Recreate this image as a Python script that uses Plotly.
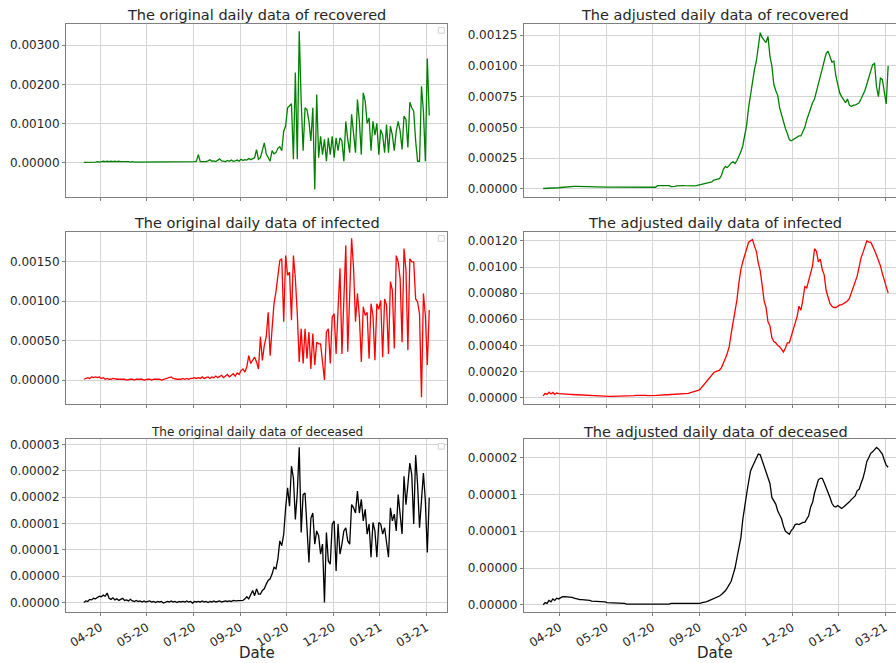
import pandas as pd
import plotly.graph_objects as go

# ---------------- data (one value every 2 days) ----------------
start_date = "2020-03-26"
n_points = 179
dates = pd.date_range(start_date, periods=n_points, freq="2D")

recovered_original = [
    0.0, 0.0, 0.00001, 0.0, 0.00001, 0.00001, 0.00001, 0.00002, 0.00001, 0.00002,
    0.00003, 0.00002, 0.00003, 0.00002, 0.00003, 0.00002, 0.00003, 0.00002, 0.00003, 0.00002,
    0.00002, 0.00003, 0.00002, 0.00002, 0.00001, 0.00002, 0.00001, 0.00001, 0.00001, 0.00002,
    0.00001, 0.00001, 0.00002, 0.00001, 0.00001, 0.00001, 0.00002, 0.00001, 0.00001, 0.00001,
    0.00001, 0.00002, 0.00001, 0.00001, 0.00001, 0.00001, 0.00002, 0.00001, 0.00001, 0.00001,
    0.00001, 0.00002, 0.00001, 0.00001, 0.00002, 0.00001, 0.00002, 0.00002, 0.00003, 0.00020,
    0.00002, 0.00002, 0.00003, 0.00002, 0.00004, 0.00007, 0.00003, 0.00004, 0.00002, 0.00005,
    0.00009, 0.00004, 0.00003, 0.00002, 0.00005, 0.00003, 0.00006, 0.00003, 0.00004, 0.00006,
    0.00003, 0.00008, 0.00005, 0.00007, 0.00006, 0.00010, 0.00007, 0.00009, 0.00012, 0.00033,
    0.00008, 0.00012, 0.00030, 0.00050, 0.00022, 0.00012, 0.00003, 0.00030, 0.00022, 0.00025,
    0.00036, 0.00040, 0.00030, 0.00080, 0.00093, 0.00140, 0.00145, 0.00150, 0.00008, 0.00230,
    0.00008, 0.00336, 0.00157, 0.00030, 0.00140, 0.00135, 0.00105, 0.00055, 0.00140, -0.00069,
    0.00174, 0.00012, 0.00067, 0.00020, 0.00059, 0.00003, 0.00063, 0.00020, 0.00067, 0.00012,
    0.00063, 0.00030, 0.00063, 0.00055, 0.00003, 0.00105, 0.00059, 0.00025, 0.00123, 0.00063,
    0.00025, 0.00161, 0.00105, 0.00020, 0.00178, 0.00157, 0.00100, 0.00114, 0.00030, 0.00105,
    0.00070, 0.00100, 0.00020, 0.00084, 0.00070, 0.00025, 0.00097, 0.00025, 0.00093, 0.00070,
    0.00030, 0.00080, 0.00105, 0.00080, 0.00033, 0.00119, 0.00110, 0.00038, 0.00154, 0.00140,
    0.00131, 0.00055, 0.00003, 0.00003, 0.00195, 0.00131, 0.00003, 0.00266, 0.00120,
]

infected_original = [
    0.00001, 0.00002, 0.00003, 0.00002, 0.00004, 0.00003, 0.00004, 0.00003, 0.00004, 0.00002,
    0.00003, 0.00001, 0.00002, 0.00001, 0.00001, 0.00002, 0.00001, 0.00001, 0.00001, 0.00001,
    0.00001, 0.00001, 0.00000, 0.00001, 0.00001, 0.00001, 0.00000, 0.00001, 0.00001, 0.00001,
    0.00001, 0.00000, 0.00001, 0.00001, 0.00001, 0.00000, 0.00001, 0.00001, 0.00001, 0.00001,
    0.00000, 0.00001, 0.00001, 0.00002, 0.00003, 0.00004, 0.00002, 0.00001, 0.00001, 0.00001,
    0.00001, 0.00002, 0.00001, 0.00002, 0.00001, 0.00002, 0.00002, 0.00003, 0.00002, 0.00003,
    0.00002, 0.00004, 0.00002, 0.00003, 0.00004, 0.00002, 0.00004, 0.00003, 0.00005, 0.00003,
    0.00004, 0.00006, 0.00003, 0.00005, 0.00007, 0.00004, 0.00006, 0.00008, 0.00005, 0.00009,
    0.00007, 0.00012, 0.00014, 0.00010, 0.00017, 0.00031, 0.00021, 0.00025, 0.00029, 0.00023,
    0.00014, 0.00055, 0.00025, 0.00044, 0.00055, 0.00086, 0.00031, 0.00065, 0.00097, 0.00112,
    0.00135, 0.00152, 0.00154, 0.00074, 0.00158, 0.00133, 0.00137, 0.00076, 0.00158, 0.00129,
    0.00084, 0.00023, 0.00065, 0.00021, 0.00065, 0.00027, 0.00061, 0.00014, 0.00059, 0.00019,
    0.00048, 0.00046, 0.00046, 0.00025, 0.00000, 0.00061, 0.00065, 0.00021, 0.00080, 0.00084,
    0.00033, 0.00089, 0.00142, 0.00033, 0.00100, 0.00171, 0.00036, 0.00100, 0.00180, 0.00142,
    0.00074, 0.00110, 0.00080, 0.00023, 0.00093, 0.00082, 0.00086, 0.00027, 0.00097, 0.00082,
    0.00025, 0.00097, 0.00090, 0.00101, 0.00029, 0.00103, 0.00095, 0.00033, 0.00125, 0.00114,
    0.00040, 0.00158, 0.00150, 0.00129, 0.00048, 0.00167, 0.00140, 0.00038, 0.00154, 0.00150,
    0.00150, 0.00103, 0.00099, 0.00084, -0.00022, 0.00110, 0.00082, 0.00019, 0.00089,
]

deceased_original = [
    0.0, 0.0000003, 0.0000002, 0.0000006, 0.0000005, 0.0000008, 0.0000007, 0.0000010, 0.0000012, 0.0000011,
    0.0000014, 0.0000012, 0.0000018, 0.0000008, 0.0000006, 0.0000009, 0.0000005, 0.0000007, 0.0000004, 0.0000006,
    0.0000008, 0.0000004, 0.0000005, 0.0000003, 0.0000006, 0.0000003, 0.0000002, 0.0000004, 0.0000002, 0.0000003,
    0.0000001, 0.0000003, 0.0000001, 0.0000002, 0.0000003, 0.0000001, 0.0000002, 0.0000000, 0.0000002, 0.0000001,
    0.0000002, -0.0000001, 0.0000001, 0.0000002, 0.0000001, 0.0000003, 0.0000001, 0.0000002, 0.0000000, 0.0000002,
    0.0000001, 0.0000002, 0.0000001, 0.0000003, 0.0000001, 0.0000002, -0.0000001, 0.0000002, 0.0000001, 0.0000002,
    0.0000001, 0.0000003, 0.0000001, 0.0000002, 0.0000000, 0.0000002, 0.0000001, 0.0000003, 0.0000001, 0.0000002,
    0.0000003, 0.0000001, 0.0000002, 0.0000003, 0.0000002, 0.0000003, 0.0000002, 0.0000004, 0.0000003, 0.0000003,
    0.0000004, 0.0000003, 0.0000004, 0.0000007, 0.0000011, 0.0000007, 0.0000016, 0.0000023, 0.0000013, 0.0000026,
    0.0000016, 0.0000016, 0.0000023, 0.0000026, 0.0000035, 0.0000042, 0.0000045, 0.0000054, 0.0000067, 0.0000064,
    0.0000083, 0.0000117, 0.0000108, 0.0000130, 0.0000180, 0.0000218, 0.0000183, 0.0000259, 0.0000237, 0.0000158,
    0.0000208, 0.0000295, 0.0000133, 0.0000205, 0.0000208, 0.0000136, 0.0000076, 0.0000160, 0.0000170, 0.0000111,
    0.0000136, 0.0000127, 0.0000092, 0.0000111, 0.0000000, 0.0000133, 0.0000079, 0.0000073, 0.0000149, 0.0000155,
    0.0000060, 0.0000149, 0.0000092, 0.0000111, 0.0000136, 0.0000142, 0.0000117, 0.0000111, 0.0000186, 0.0000180,
    0.0000170, 0.0000212, 0.0000170, 0.0000196, 0.0000155, 0.0000177, 0.0000130, 0.0000149, 0.0000086, 0.0000152,
    0.0000136, 0.0000086, 0.0000152, 0.0000149, 0.0000130, 0.0000142, 0.0000117, 0.0000086, 0.0000180, 0.0000155,
    0.0000168, 0.0000136, 0.0000205, 0.0000161, 0.0000130, 0.0000240, 0.0000186, 0.0000224, 0.0000265, 0.0000243,
    0.0000149, 0.0000280, 0.0000224, 0.0000142, 0.0000199, 0.0000246, 0.0000193, 0.0000095, 0.0000199,
]

recovered_adjusted = [
    0.000002, 0.000002, 0.000002, 0.000003, 0.000003, 0.000004, 0.000005, 0.000006, 0.000008, 0.000010,
    0.000012, 0.000014, 0.000016, 0.000017, 0.000018, 0.000019, 0.000020, 0.000020, 0.000020, 0.000020,
    0.000020, 0.000019, 0.000019, 0.000019, 0.000018, 0.000018, 0.000017, 0.000017, 0.000016, 0.000016,
    0.000015, 0.000015, 0.000014, 0.000014, 0.000013, 0.000013, 0.000012, 0.000012, 0.000011, 0.000011,
    0.000010, 0.000010, 0.000010, 0.000010, 0.000009, 0.000009, 0.000009, 0.000009, 0.000009, 0.000009,
    0.000009, 0.000009, 0.000010, 0.000010, 0.000010, 0.000011, 0.000011, 0.000011, 0.000012, 0.000025,
    0.000027, 0.000027, 0.000026, 0.000026, 0.000026, 0.000025, 0.000018, 0.000016, 0.000020, 0.000024,
    0.000026, 0.000026, 0.000026, 0.000025, 0.000024, 0.000023, 0.000022, 0.000022, 0.000024, 0.000026,
    0.000030, 0.000032, 0.000035, 0.000038, 0.000040, 0.000045, 0.000050, 0.000055, 0.000070, 0.000076,
    0.000078, 0.000082, 0.000110, 0.000160, 0.000180, 0.000173, 0.000190, 0.000210, 0.000220, 0.000205,
    0.00023, 0.00026, 0.00030, 0.00035, 0.00043, 0.00052, 0.00066, 0.00077, 0.00088, 0.00097,
    0.00104, 0.00114, 0.00127, 0.00123, 0.00121, 0.00119, 0.00124, 0.00108, 0.00100, 0.00085,
    0.00080, 0.00076, 0.00066, 0.00060, 0.00053, 0.00049, 0.00045, 0.00040, 0.00039, 0.00040,
    0.00041, 0.00042, 0.00043, 0.00043, 0.00047, 0.00050, 0.00056, 0.00061, 0.00064, 0.00070,
    0.00073, 0.00079, 0.00084, 0.00091, 0.00098, 0.00104, 0.00110, 0.00112, 0.00107, 0.00103,
    0.00104, 0.00092, 0.00085, 0.00078, 0.00075, 0.00072, 0.00070, 0.00073, 0.00068, 0.00067,
    0.00068, 0.00068, 0.00069, 0.00070, 0.00073, 0.00076, 0.00080, 0.00085, 0.00090, 0.00096,
    0.00101, 0.00102, 0.00083, 0.00075, 0.00090, 0.00089, 0.00080, 0.00069, 0.00100,
]

infected_adjusted = [
    0.000013, 0.000033, 0.000025, 0.000042, 0.000028, 0.000040, 0.000025, 0.000035, 0.000030, 0.000030,
    0.000030, 0.000028, 0.000027, 0.000026, 0.000025, 0.000024, 0.000023, 0.000022, 0.000021, 0.000020,
    0.000019, 0.000018, 0.000017, 0.000016, 0.000015, 0.000014, 0.000014, 0.000013, 0.000013, 0.000012,
    0.000012, 0.000011, 0.000011, 0.000011, 0.000010, 0.000010, 0.000010, 0.000010, 0.000010, 0.000010,
    0.000010, 0.000010, 0.000010, 0.000011, 0.000011, 0.000012, 0.000013, 0.000015, 0.000017, 0.000018,
    0.000019, 0.000019, 0.000018, 0.000017, 0.000016, 0.000015, 0.000015, 0.000016, 0.000017, 0.000018,
    0.000020, 0.000020, 0.000021, 0.000022, 0.000022, 0.000023, 0.000023, 0.000024, 0.000024, 0.000025,
    0.000025, 0.000026, 0.000027, 0.000028, 0.000030, 0.000033, 0.000038, 0.000042, 0.000045, 0.000050,
    0.000055, 0.000065, 0.000083, 0.000100, 0.000116, 0.000140, 0.000160, 0.000175, 0.000190, 0.000200,
    0.000205, 0.000210, 0.000230, 0.000260, 0.000300, 0.000340, 0.000390, 0.000490, 0.000580, 0.000660,
    0.00075, 0.00088, 0.00098, 0.00104, 0.00110, 0.00114, 0.00119, 0.00120, 0.00121, 0.00116,
    0.00112, 0.00103, 0.00097, 0.00086, 0.00074, 0.00069, 0.00058, 0.00055, 0.00046, 0.00043,
    0.00042, 0.00040, 0.00039, 0.00037, 0.00035, 0.00038, 0.00042, 0.00042, 0.00047, 0.00052,
    0.00058, 0.00062, 0.00070, 0.00067, 0.00075, 0.00085, 0.00084, 0.00089, 0.00096, 0.00101,
    0.00114, 0.00112, 0.00104, 0.00106, 0.00098, 0.00094, 0.00082, 0.00077, 0.00072, 0.00070,
    0.00069, 0.00069, 0.00070, 0.00071, 0.00071, 0.00072, 0.00073, 0.00074, 0.00076, 0.00080,
    0.00084, 0.00089, 0.00093, 0.00100, 0.00107, 0.00111, 0.00116, 0.00120, 0.00119, 0.00119,
    0.00116, 0.00113, 0.00109, 0.00105, 0.00101, 0.00095, 0.00090, 0.00084, 0.00080,
]

deceased_adjusted = [
    0.0, 0.0000003, 0.0000002, 0.0000006, 0.0000004, 0.0000008, 0.0000006, 0.0000009, 0.0000008, 0.0000010,
    0.0000011, 0.0000011, 0.0000011, 0.0000011, 0.0000010, 0.0000010, 0.0000009, 0.0000008, 0.0000008, 0.0000007,
    0.0000007, 0.0000007, 0.0000006, 0.0000006, 0.0000006, 0.0000005, 0.0000005, 0.0000005, 0.0000005, 0.0000004,
    0.0000004, 0.0000004, 0.0000004, 0.0000003, 0.0000003, 0.0000003, 0.0000003, 0.0000003, 0.0000002, 0.0000002,
    0.0000002, 0.0000002, 0.0000002, 0.0000001, 0.0000001, 0.0000001, 0.0000001, 0.0000001, 0.0000001, 0.0000001,
    0.0000001, 0.0000001, 0.0000001, 0.0000001, 0.0000001, 0.0000001, 0.0000000, 0.0000000, 0.0000001, 0.0000001,
    0.0000001, 0.0000001, 0.0000001, 0.0000001, 0.0000001, 0.0000001, 0.0000002, 0.0000002, 0.0000001, 0.0000001,
    0.0000002, 0.0000002, 0.0000002, 0.0000002, 0.0000002, 0.0000002, 0.0000002, 0.0000002, 0.0000002, 0.0000002,
    0.0000002, 0.0000002, 0.0000003, 0.0000003, 0.0000004, 0.0000005, 0.0000006, 0.0000007, 0.0000008, 0.0000009,
    0.0000011, 0.0000012, 0.0000014, 0.0000016, 0.0000019, 0.0000023, 0.0000027, 0.0000032, 0.0000041, 0.0000050,
    0.0000064, 0.0000076, 0.0000091, 0.0000116, 0.0000136, 0.0000151, 0.0000167, 0.0000182, 0.0000188, 0.0000194,
    0.0000200, 0.0000205, 0.0000204, 0.0000196, 0.0000188, 0.0000182, 0.0000171, 0.0000165, 0.0000146, 0.0000141,
    0.0000137, 0.0000128, 0.0000123, 0.0000117, 0.0000107, 0.0000100, 0.0000098, 0.0000096, 0.0000101, 0.0000104,
    0.0000109, 0.0000110, 0.0000109, 0.0000111, 0.0000112, 0.0000112, 0.0000116, 0.0000121, 0.0000133, 0.0000139,
    0.0000152, 0.0000160, 0.0000170, 0.0000172, 0.0000172, 0.0000166, 0.0000160, 0.0000152, 0.0000146, 0.0000138,
    0.0000134, 0.0000133, 0.0000135, 0.0000133, 0.0000131, 0.0000133, 0.0000135, 0.0000138, 0.0000140, 0.0000143,
    0.0000146, 0.0000148, 0.0000155, 0.0000157, 0.0000165, 0.0000172, 0.0000182, 0.0000195, 0.0000200, 0.0000206,
    0.0000208, 0.0000211, 0.0000214, 0.0000212, 0.0000208, 0.0000205, 0.0000197, 0.0000190, 0.0000187,
]

x_tick_dates = ["2020-04-12", "2020-05-30", "2020-07-17", "2020-09-03",
                "2020-10-21", "2020-12-08", "2021-01-25", "2021-03-14"]
x_tick_labels = ["04-20", "05-20", "07-20", "09-20", "10-20", "12-20", "01-21", "03-21"]

y_ticks_rec_orig = [0.0, 0.001, 0.002, 0.003]
y_text_rec_orig = ["0.00000", "0.00100", "0.00200", "0.00300"]
y_ticks_rec_adj = [0.0, 0.00025, 0.0005, 0.00075, 0.001, 0.00125]
y_text_rec_adj = ["0.00000", "0.00025", "0.00050", "0.00075", "0.00100", "0.00125"]
y_ticks_inf_orig = [0.0, 0.0005, 0.001, 0.0015]
y_text_inf_orig = ["0.00000", "0.00050", "0.00100", "0.00150"]
y_ticks_inf_adj = [0.0, 0.0002, 0.0004, 0.0006, 0.0008, 0.001, 0.0012]
y_text_inf_adj = ["0.00000", "0.00020", "0.00040", "0.00060", "0.00080", "0.00100", "0.00120"]
y_ticks_dec_orig = [0.0, 0.000005, 0.00001, 0.000015, 0.00002, 0.000025, 0.00003]
y_text_dec_orig = ["0.00000", "0.00000", "0.00001", "0.00001", "0.00002", "0.00002", "0.00003"]
y_ticks_dec_adj = [0.0, 0.000005, 0.00001, 0.000015, 0.00002]
y_text_dec_adj = ["0.00000", "0.00000", "0.00001", "0.00001", "0.00002"]

titles = ["The original daily data of recovered", "The adjusted daily data of recovered",
          "The original daily data of infected", "The adjusted daily data of infected",
          "The original daily data of deceased", "The adjusted daily data of deceased"]

# ---------------- layout geometry (pixels of the 896x663 page) ----------------
W, H = 896, 663
FONT = "DejaVu Sans"
TXT = "#262626"
GRID = "#d4d4d4"
SPINE = "#808080"

base = pd.Timestamp(start_date)


def day(d):
    return (base + pd.Timedelta(days=d)).strftime("%Y-%m-%d %H:%M:%S")


col_px = {0: (66.0, 446.7), 1: (523.7, 896.0)}
col_range = {0: (-18.4, 374.0), 1: (-20.1, 364.1)}
row_px = {0: (23.3, 196.3), 1: (231.7, 404.5), 2: (439.0, 613.0)}
y_ranges = [(-0.000878, 0.003538), (-0.0000648, 0.001339),
            (-0.000308, 0.00188), (-0.0000508, 0.001268),
            (-0.00000183, 0.00003113), (-0.000000998, 0.00002259)]
y_tick_sets = [(y_ticks_rec_orig, y_text_rec_orig), (y_ticks_rec_adj, y_text_rec_adj),
               (y_ticks_inf_orig, y_text_inf_orig), (y_ticks_inf_adj, y_text_inf_adj),
               (y_ticks_dec_orig, y_text_dec_orig), (y_ticks_dec_adj, y_text_dec_adj)]
series = [recovered_original, recovered_adjusted, infected_original,
          infected_adjusted, deceased_original, deceased_adjusted]
colors = ["green", "green", "red", "red", "black", "black"]

fig = go.Figure()
layout = dict(width=W, height=H, margin=dict(l=0, r=0, t=0, b=0),
              paper_bgcolor="white", plot_bgcolor="white", showlegend=False,
              font=dict(family=FONT, color=TXT, size=12))
annotations = []
shapes = []

for i in range(6):
    row, col = divmod(i, 2)
    suffix = "" if i == 0 else str(i + 1)
    fig.add_trace(go.Scatter(x=dates, y=series[i], mode="lines",
                             line=dict(color=colors[i], width=1.3),
                             xaxis="x" + suffix, yaxis="y" + suffix,
                             hoverinfo="skip"))
    x0, x1 = col_px[col]
    yt, yb = row_px[row]
    bottom_row = row == 2
    layout["xaxis" + suffix] = dict(
        domain=[x0 / W, x1 / W], anchor="y" + suffix,
        type="date", range=[day(col_range[col][0]), day(col_range[col][1])],
        tickvals=x_tick_dates, ticktext=x_tick_labels,
        showticklabels=bottom_row, tickangle=-30,
        tickfont=dict(size=12, color=TXT, family=FONT),
        ticks="outside", ticklen=3, tickcolor=SPINE,
        showgrid=True, gridcolor=GRID, gridwidth=1,
        showline=True, linecolor=SPINE, linewidth=1, mirror=True,
        zeroline=False, fixedrange=True,
    )
    tv, tt = y_tick_sets[i]
    layout["yaxis" + suffix] = dict(
        domain=[1 - yb / H, 1 - yt / H], anchor="x" + suffix,
        range=list(y_ranges[i]), tickvals=tv, ticktext=tt,
        tickfont=dict(size=12, color=TXT, family=FONT),
        ticks="outside", ticklen=3, tickcolor=SPINE,
        showgrid=True, gridcolor=GRID, gridwidth=1,
        showline=True, linecolor=SPINE, linewidth=1, mirror=(col == 0),
        zeroline=False, fixedrange=True,
    )
    # subplot title
    title_size = 12 if i == 4 else 14.5
    title_center = {0: 256.5, 1: 715.0}[col]
    title_mid = {0: 14.0, 1: 222.5, 2: 432.0}[row]
    annotations.append(dict(text=titles[i], x=title_center / W, y=1 - title_mid / H,
                            xref="paper", yref="paper", xanchor="center", yanchor="middle",
                            showarrow=False, font=dict(size=title_size, color=TXT, family=FONT)))
    if bottom_row:
        annotations.append(dict(text="Date", x=title_center / W, y=1 - 654.0 / H,
                                xref="paper", yref="paper", xanchor="center", yanchor="middle",
                                showarrow=False, font=dict(size=15, color=TXT, family=FONT)))
    if col == 0:
        # empty legend frame in the upper-right corner
        ly = {0: (26.7, 32.3), 1: (235.3, 241.0), 2: (444.0, 449.5)}[row]
        shapes.append(dict(type="rect", xref="paper", yref="paper",
                           x0=438.3 / W, x1=444.3 / W, y0=1 - ly[1] / H, y1=1 - ly[0] / H,
                           line=dict(color="#d0d0d0", width=1), fillcolor="white"))

layout["annotations"] = annotations
layout["shapes"] = shapes
fig.update_layout(**layout)
fig.write_html("out.html")
